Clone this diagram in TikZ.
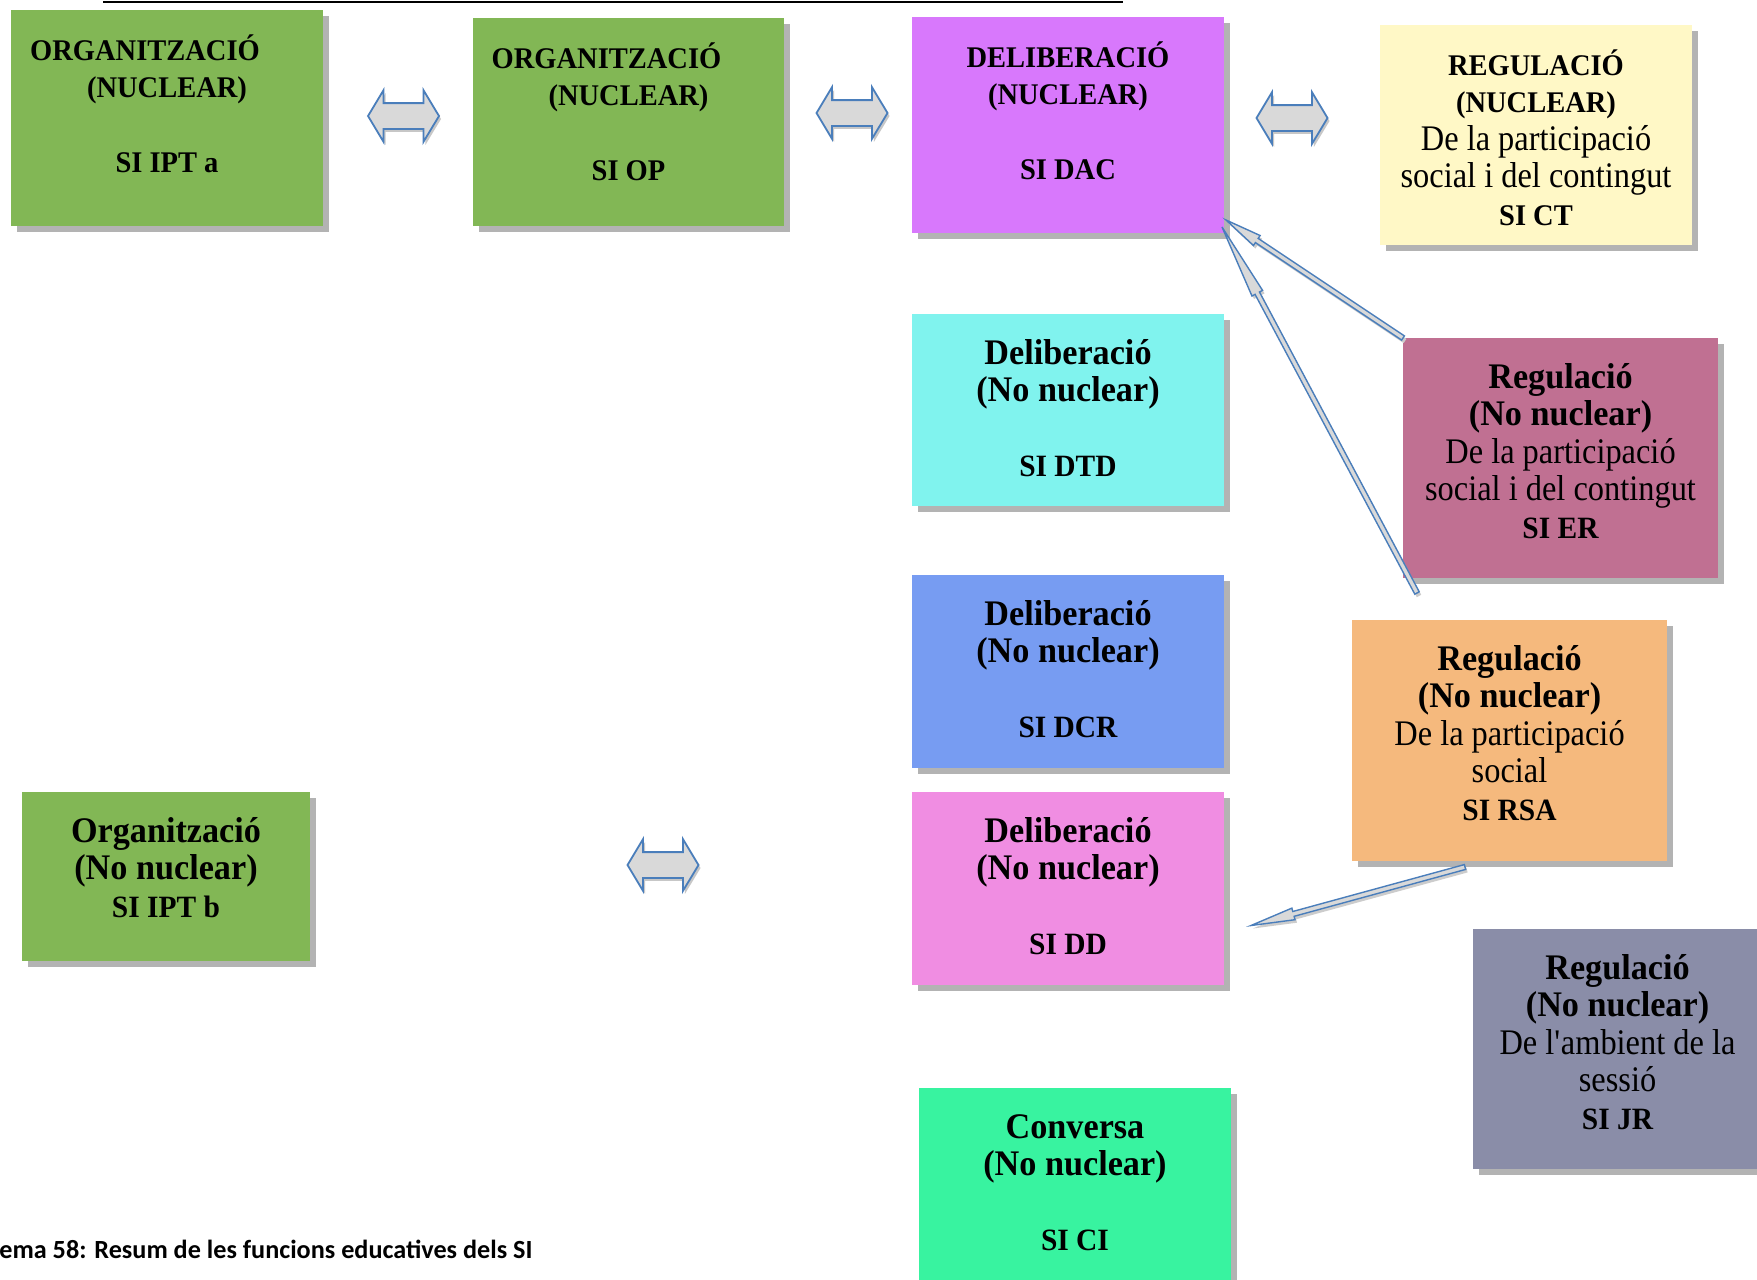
\documentclass[tikz,border=0pt]{standalone}
\usepackage{fontspec}
\setmainfont{Liberation Serif}[UprightFeatures={FakeStretch=0.9},BoldFeatures={FakeStretch=0.95}]
\newfontfamily\capfont{Carlito}
\usetikzlibrary{calc,fit,shadows,shapes.arrows}
\definecolor{cgreen}{HTML}{82B755}
\definecolor{cmagenta}{HTML}{D878FC}
\definecolor{cyellow}{HTML}{FFF8C6}
\definecolor{ccyan}{HTML}{80F3EE}
\definecolor{cmauve}{HTML}{C07092}
\definecolor{cblue}{HTML}{779CF2}
\definecolor{corange}{HTML}{F5B97D}
\definecolor{cpink}{HTML}{F08DE2}
\definecolor{cslate}{HTML}{8A8DA8}
\definecolor{cmint}{HTML}{38F3A0}
\definecolor{shadowgray}{HTML}{B3B3B3}
\definecolor{arrowblue}{HTML}{4A7EBB}
\definecolor{arrowfill}{HTML}{D9D9D9}
\newcommand{\fcap}{\fontsize{15}{18.75}\selectfont}
\newcommand{\fmix}{\fontsize{18}{18.75}\selectfont}
\newcommand{\fsi}{\fontsize{15.5}{18.75}\selectfont}
\newcommand{\boxlines}[1]{\parbox[t]{155pt}{\centering\lineskiplimit=-\maxdimen\bfseries #1}}
\newcommand{\blkarrow}[4]{%
  \coordinate (#1-n) at ($(#3)!#4!(#2)$);
  \draw[blkarrowstyle] ($(#2)!1.25pt!90:(#3)$) -- ($(#1-n)!1.25pt!90:(#3)$)
    -- ($(#1-n)!3pt!90:(#3)$) -- (#3) -- ($(#1-n)!3pt!-90:(#3)$)
    -- ($(#1-n)!1.25pt!-90:(#3)$) -- ($(#2)!1.25pt!-90:(#3)$) -- cycle;
}
\tikzset{
  box/.style={inner sep=0pt, outer sep=0pt,
    drop shadow={shadow xshift=3pt, shadow yshift=-3pt, fill=shadowgray, opacity=1}},
  lbl/.style={inner sep=0pt, anchor=base},
  dblarrow/.style={double arrow, draw=arrowblue, fill=arrowfill, line width=0.9pt,
    inner sep=0pt, text height=12pt, text depth=0pt, text width=0pt,
    double arrow head extend=6.5pt, double arrow tip angle=118, minimum height=35.5pt,
    drop shadow={shadow xshift=1pt, shadow yshift=-1.5pt, fill=black!22, opacity=1}},
  blkarrowstyle/.style={draw=arrowblue, fill=arrowfill, line width=0.7pt, line join=miter,
    drop shadow={shadow xshift=1pt, shadow yshift=-1.5pt, fill=black!20, opacity=1}},
}
\begin{document}
\begin{tikzpicture}[x=0.5pt,y=-0.5pt]
\useasboundingbox (0,0) rectangle (1757,1280);
\fill[white] (0,0) rectangle (1757,1280);
\draw[line width=1pt] (103,1.5) -- (1123,1.5);

% boxes
\node[box, fill=cgreen,   fit={(11,10)(323,226)}]    (ipta) {};
\node[box, fill=cgreen,   fit={(473,18)(784,226)}]   (op)   {};
\node[box, fill=cmagenta, fit={(912,17)(1224,233)}]  (dac)  {};
\node[box, fill=cyellow,  fit={(1380,25)(1692,245)}] (ct)   {};
\node[box, fill=ccyan,    fit={(912,314)(1224,506)}] (dtd)  {};
\node[box, fill=cmauve,   fit={(1403,338)(1718,578)}] (er)  {};
\node[box, fill=cblue,    fit={(912,575)(1224,768)}] (dcr)  {};
\node[box, fill=corange,  fit={(1352,620)(1667,861)}] (rsa) {};
\node[box, fill=cpink,    fit={(912,792)(1224,985)}] (dd)   {};
\node[box, fill=cslate,   fit={(1473,929)(1762,1169)}] (jr) {};
\node[box, fill=cgreen,   fit={(22,792)(310,961)}]   (iptb) {};
\node[box, fill=cmint,    fit={(919,1088)(1231,1320)}] (ci) {};

% texts
\node[lbl] (ipta-t) at ($(ipta.north)+(0,50)$) {\boxlines{\fcap ORGANITZACIÓ\hspace*{22pt}\mbox{}\\(NUCLEAR)\\\mbox{}\\SI IPT a}};
\node[lbl] (op-t) at ($(op.north)+(0,50)$) {\boxlines{\fcap ORGANITZACIÓ\hspace*{22pt}\mbox{}\\(NUCLEAR)\\\mbox{}\\SI OP}};
\node[lbl] (dac-t) at ($(dac.north)+(0,50)$) {\boxlines{\fcap DELIBERACIÓ\\(NUCLEAR)\\\mbox{}\\SI DAC}};
\node[lbl] (ct-t) at ($(ct.north)+(0,50)$) {\boxlines{\fcap REGULACIÓ\\(NUCLEAR)\\{\fmix\mdseries De la participació\\social i del contingut\\}\fcap SI CT}};
\node[lbl] (dtd-t) at ($(dtd.north)+(0,50)$) {\boxlines{\fmix Deliberació\\(No nuclear)\\\mbox{}\\\fsi SI DTD}};
\node[lbl] (er-t) at ($(er.north)+(0,50)$) {\boxlines{\fmix Regulació\\(No nuclear)\\{\mdseries De la participació\\social i del contingut\\}\fsi SI ER}};
\node[lbl] (dcr-t) at ($(dcr.north)+(0,50)$) {\boxlines{\fmix Deliberació\\(No nuclear)\\\mbox{}\\\fsi SI DCR}};
\node[lbl] (rsa-t) at ($(rsa.north)+(0,50)$) {\boxlines{\fmix Regulació\\(No nuclear)\\{\mdseries De la participació\\social\\}\fsi SI RSA}};
\node[lbl] (dd-t) at ($(dd.north)+(0,50)$) {\boxlines{\fmix Deliberació\\(No nuclear)\\\mbox{}\\\fsi SI DD}};
\node[lbl] (jr-t) at ($(jr.north)+(0,50)$) {\boxlines{\fmix Regulació\\(No nuclear)\\{\mdseries De l\textquotesingle ambient de la\\sessió\\}\fsi SI JR}};
\node[lbl] (iptb-t) at ($(iptb.north)+(0,50)$) {\boxlines{\fmix Organització\\(No nuclear)\\\fsi SI IPT b}};
\node[lbl] (ci-t) at ($(ci.north)+(0,50)$) {\boxlines{\fmix Conversa\\(No nuclear)\\\mbox{}\\\fsi SI CI}};

% double arrows
\node[dblarrow] (da1) at (403.5,116) {};
\node[dblarrow] (da2) at (852,113) {};
\node[dblarrow] (da3) at (1292,118) {};
\node[dblarrow] (da4) at (663,865) {};

% block arrows
\coordinate (a1tail) at (er.north west);
\coordinate (a1tip) at ($(dac.south east)+(2,-13)$);
\coordinate (a2tail) at ($(er.south west)+(14,15)$);
\coordinate (a2tip) at ($(dac.south east)+(-2,-6)$);
\coordinate (a3tail) at ($(rsa.south west)+(113,6)$);
\coordinate (a3tip) at ($(dd.east)+(27,37)$);
\blkarrow{ar1}{a1tail}{a1tip}{18.5pt}
\blkarrow{ar2}{a2tail}{a2tip}{37.5pt}
\blkarrow{ar3}{a3tail}{a3tip}{22pt}

% caption
\node[anchor=base west, inner sep=0pt, font=\capfont\bfseries\fontsize{13.1}{15}\selectfont] (caption) at (-1,1258) {ema 58: Resum de les funcions educatives dels SI};
\end{tikzpicture}
\end{document}
